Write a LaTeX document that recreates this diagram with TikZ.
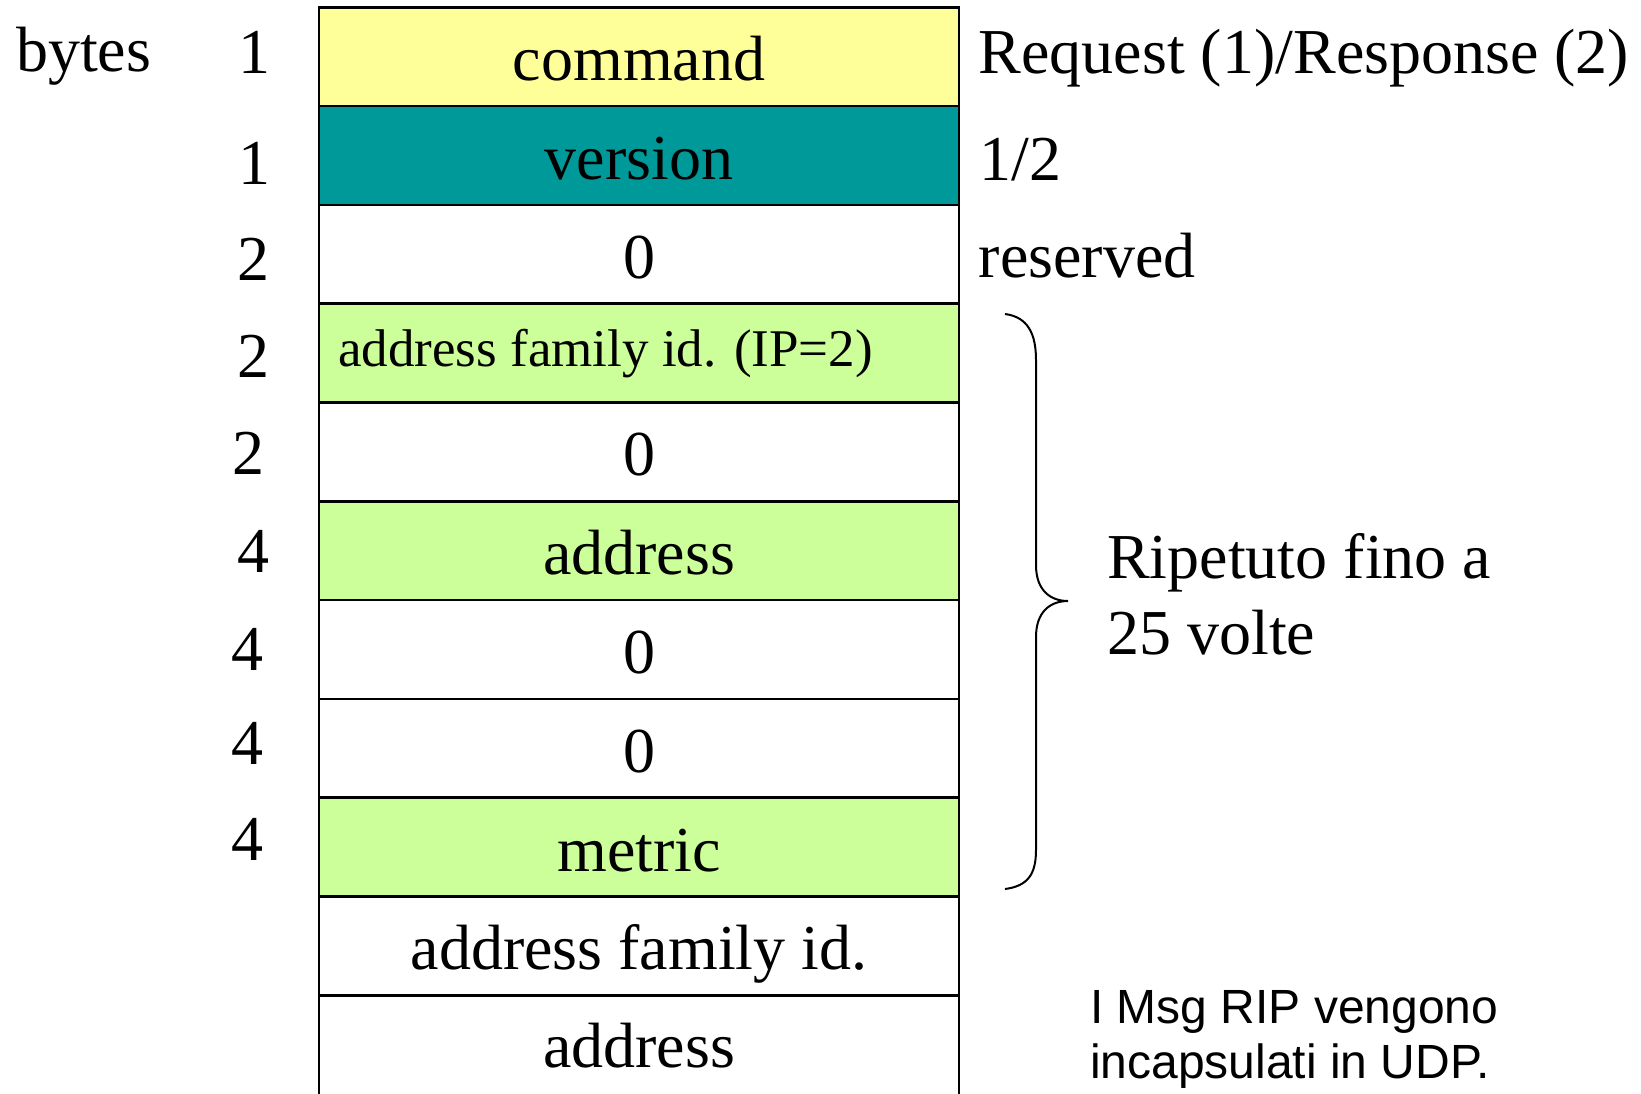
\documentclass[tikz,border=0pt]{standalone}
\usepackage{fontspec}
\setmainfont{Liberation Serif}
\newfontfamily\notefont{Liberation Sans}
\definecolor{cmdyellow}{HTML}{FFFF99}
\definecolor{verteal}{HTML}{009999}
\definecolor{fldgreen}{HTML}{CCFF99}
\begin{document}
\begin{tikzpicture}[x=1pt,y=-1pt,
  field/.style={draw=black, line width=2.5pt, minimum width=640pt, minimum height=98.8pt,
    inner sep=0pt, text height=48pt, text depth=0pt, font=\fontsize{64}{76}\selectfont},
  lbl/.style={inner sep=0pt, font=\fontsize{64}{76}\selectfont},
  num/.style={lbl, anchor=base},
  side/.style={lbl, anchor=base west},
  note/.style={inner sep=0pt, anchor=base west, font=\notefont\fontsize{48}{55}\selectfont},
  bracestyle/.style={draw=black, line width=2pt}]
\useasboundingbox[fill=white] (0,0) rectangle (1641,1093);
\clip (0,0) rectangle (1641,1093);

% fields
\node[field, fill=cmdyellow] (f1) at (639,56.7) {command};
\node[field, fill=verteal] (f2) at (639,155.5) {version};
\node[field, fill=white] (f3) at (639,254.3) {0};
\node[field, fill=fldgreen] (f4) at (639,353.1) {};
\node[lbl, anchor=base west, font=\fontsize{53}{60}\selectfont] (f4t) at (338,366) {address family id. (IP=2)};
\node[field, fill=white] (f5) at (639,451.9) {0};
\node[field, fill=fldgreen] (f6) at (639,550.7) {address};
\node[field, fill=white] (f7) at (639,649.5) {0};
\node[field, fill=white] (f8) at (639,748.3) {0};
\node[field, fill=fldgreen] (f9) at (639,847.1) {metric};
\node[field, fill=white] (f10) at (639,945.9) {address family id.};
\node[field, fill=white, minimum height=118.8pt, text depth=22.4pt] (f11) at (639,1054.7) {address};

% byte counts
\node[lbl, anchor=base west] (bytes) at (16,71) {bytes};
\node[num] (n1) at (254,73) {1};
\node[num] (n2) at (254,184) {1};
\node[num] (n3) at (253,280.5) {2};
\node[num] (n4) at (253,377) {2};
\node[num] (n5) at (248,474) {2};
\node[num] (n6) at (253,572.5) {4};
\node[num] (n7) at (247,670) {4};
\node[num] (n8) at (247,764) {4};
\node[num] (n9) at (247,860) {4};

% side notes
\node[side] (s1) at (978.5,73) {Request (1)/Response (2)};
\node[side] (s2) at (979,180) {1/2};
\node[side] (s3) at (978.5,277) {reserved};

% brace
\draw[bracestyle] (1005,314) .. controls (1028,317) and (1036,334) .. (1036,360)
  -- (1036,565) .. controls (1036,590) and (1050,601) .. (1068,601)
  .. controls (1050,601) and (1036,612) .. (1036,637)
  -- (1036,850) .. controls (1036,874) and (1028,886) .. (1005,889);
\node[side] (rip1) at (1107,578) {Ripetuto fino a};
\node[side] (rip2) at (1107,654) {25 volte};

% note
\node[note] (nt1) at (1090,1023.5) {I Msg RIP vengono};
\node[note] (nt2) at (1090,1078) {incapsulati in UDP.};
\end{tikzpicture}
\end{document}
